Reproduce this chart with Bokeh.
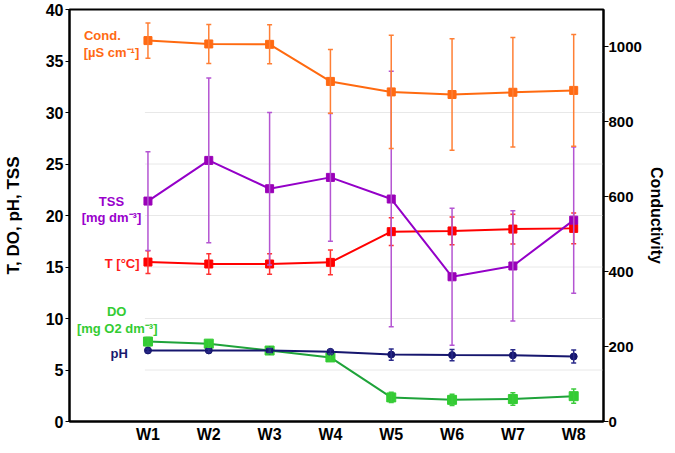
from bokeh.plotting import figure
from bokeh.models import (Range1d, LinearAxis, FixedTicker, ColumnDataSource,
                          Whisker, TeeHead, Label)
from bokeh.embed import file_html
from bokeh.resources import INLINE

# ---------------- data ----------------
weeks = ["W1", "W2", "W3", "W4", "W5", "W6", "W7", "W8"]

cond = [1017, 1008, 1007, 908, 880, 873, 879, 884]          # µS/cm (right axis)
cond_err = [47, 52, 52, 85, 151, 149, 146, 149]

tss = [21.4, 25.35, 22.6, 23.7, 21.6, 14.05, 15.1, 19.55]   # mg/dm3
tss_err = [4.8, 8.0, 7.4, 6.2, 12.4, 6.65, 5.35, 7.1]

temp = [15.48, 15.29, 15.29, 15.45, 18.43, 18.5, 18.68, 18.75]
temp_err = [1.1, 1.0, 1.0, 1.2, 1.35, 1.35, 1.45, 1.5]

ph = [6.9, 6.9, 6.89, 6.76, 6.5, 6.45, 6.42, 6.31]
ph_err = [0.15, 0.15, 0.2, 0.2, 0.55, 0.55, 0.55, 0.62]

do = [7.76, 7.56, 6.89, 6.22, 2.34, 2.1, 2.18, 2.46]
do_err = [0.4, 0.35, 0.3, 0.35, 0.5, 0.55, 0.6, 0.7]

left_ticks = [0, 5, 10, 15, 20, 25, 30, 35, 40]
grid_ticks = [5, 10, 15, 20, 25, 30]
right_ticks = [0, 200, 400, 600, 800, 1000]

xs = list(range(1, len(weeks) + 1))
FONT = "Liberation Sans"

p = figure(width=667, height=445, output_backend="svg", toolbar_location=None,
           x_range=Range1d(-0.29, 8.49), y_range=Range1d(0, 40),
           min_border_left=68, min_border_right=61, min_border_top=9,
           min_border_bottom=20)
p.extra_y_ranges = {"cond": Range1d(0, 1100)}
p.outline_line_color = "black"
p.outline_line_width = 2
p.xgrid.visible = False
p.ygrid.visible = False

# faint grid lines
p.segment(x0=[xs[0] - 0.05] * len(grid_ticks), x1=[p.x_range.end] * len(grid_ticks),
          y0=grid_ticks, y1=grid_ticks, line_color="#e8e8e8", line_width=1)

# x axis
xa = p.xaxis[0]
xa.ticker = FixedTicker(ticks=xs)
xa.major_label_overrides = {x: w for x, w in zip(xs, weeks)}
xa.major_tick_line_color = None
xa.minor_tick_line_color = None
xa.major_tick_out = 0
xa.major_tick_in = 0
xa.axis_line_width = 2
xa.major_label_standoff = 4
xa.axis_label_standoff = 0
xa.major_label_text_font = FONT
xa.major_label_text_font_size = "16px"
xa.major_label_text_font_style = "bold"
xa.major_label_text_color = "black"

# left axis
ya = p.yaxis[0]
ya.ticker = FixedTicker(ticks=left_ticks)
ya.minor_tick_line_color = None
ya.major_tick_out = 4
ya.major_tick_in = 0
ya.axis_line_width = 2
ya.major_label_standoff = 2
ya.major_label_text_font = FONT
ya.major_label_text_font_size = "16px"
ya.major_label_text_font_style = "bold"
ya.major_label_text_color = "black"
ya.axis_label = "T, DO, pH, TSS"
ya.axis_label_text_font = FONT
ya.axis_label_text_font_size = "17px"
ya.axis_label_text_font_style = "bold"
ya.axis_label_text_color = "black"
ya.axis_label_standoff = 20

# right axis
ra = LinearAxis(y_range_name="cond", ticker=FixedTicker(ticks=right_ticks))
ra.minor_tick_line_color = None
ra.major_tick_out = 5
ra.major_tick_in = 0
ra.axis_line_width = 2
ra.major_label_standoff = 0
ra.major_label_text_font = FONT
ra.major_label_text_font_size = "15px"
ra.major_label_text_font_style = "bold"
ra.major_label_text_color = "black"
ra.axis_label = "Conductivity"
ra.axis_label_text_font = FONT
ra.axis_label_text_font_size = "16px"
ra.axis_label_text_font_style = "bold"
ra.axis_label_text_color = "black"
ra.axis_label_standoff = 3
p.add_layout(ra, "right")


def series(y, err, color, ecolor, mcolor, marker, size, rname="default"):
    src = ColumnDataSource(dict(x=xs, y=y,
                                lo=[a - b for a, b in zip(y, err)],
                                hi=[a + b for a, b in zip(y, err)]))
    w = Whisker(source=src, base="x", upper="hi", lower="lo", dimension="height",
                line_color=ecolor, line_width=1.5, level="glyph",
                upper_head=TeeHead(size=5, line_color=ecolor, line_width=1.5),
                lower_head=TeeHead(size=5, line_color=ecolor, line_width=1.5),
                y_range_name=rname)
    p.add_layout(w)
    p.line("x", "y", source=src, line_color=color, line_width=2, y_range_name=rname)
    p.scatter("x", "y", source=src, marker=marker, size=size, fill_color=mcolor,
              line_color=mcolor, y_range_name=rname)


series(temp, temp_err, "#FF0000", "#FF3333", "#FF0000", "square", 8)
series(tss, tss_err, "#9400C8", "#B455D2", "#9A00B8", "square", 8)
series(cond, cond_err, "#FF6A10", "#FF7F35", "#FF6A13", "square", 8, "cond")
series(do, do_err, "#1FA33A", "#3CCB3C", "#33CC33", "square", 9)
series(ph, ph_err, "#16166E", "#2A2A8A", "#16166E", "circle", 7)

labels = [
    ("Cond.", 0.25, 37.5, "#FF6A13"),
    ("[µS cm⁻¹]", 0.40, 35.8, "#FF6A13"),
    ("TSS", 0.40, 21.4, "#9900CC"),
    ("[mg dm⁻³]", 0.40, 19.76, "#9900CC"),
    ("T [°C]", 0.576, 15.3, "#FF1A1A"),
    ("DO", 0.486, 10.67, "#33CC33"),
    ("[mg O2 dm⁻³]", 0.494, 9.07, "#33CC33"),
    ("pH", 0.527, 6.57, "#1A1A6E"),
]
for t, lx, ly, c in labels:
    p.add_layout(Label(x=lx, y=ly, text=t, text_color=c, text_font=FONT,
                       text_font_size="13px", text_font_style="bold",
                       text_align="center", text_baseline="middle"))

open("out.html", "w").write(file_html(p, INLINE))
